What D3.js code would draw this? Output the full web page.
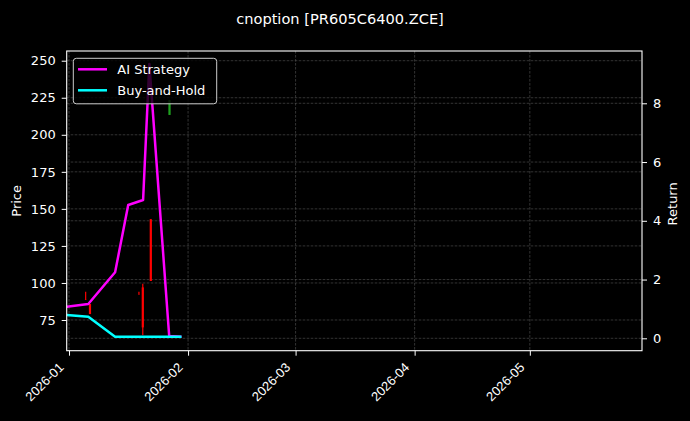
<!DOCTYPE html>
<html><head><meta charset="utf-8">
<script src="https://cdn.jsdelivr.net/npm/d3@7"></script>
<style>
html,body{margin:0;padding:0;background:#000;}
svg{display:block;font-family:"DejaVu Sans",sans-serif;}
</style></head><body>
<svg id="c" width="690" height="421"></svg>
<script>
// ---- data ----
const titleText = "cnoption [PR605C6400.ZCE]";
const lineDates = ["2025-12-31T10:00","2026-01-06T00:30","2026-01-13T00:00","2026-01-16T10:00","2026-01-20T07:00","2026-01-21T22:00","2026-01-27T02:00","2026-01-30T07:00"];
const aiStrategy = [84.0, 85.8, 107.2, 152.6, 156.0, 247.8, 64.2, 63.7];
const buyAndHold = [78.4, 77.2, 63.7, 63.7, 63.7, 63.7, 63.7, 63.7];
const candleDates = ["2026-01-05T08:00","2026-01-06T11:00","2026-01-19T05:00","2026-01-20T05:00","2026-01-22T07:00","2026-01-27T04:00"];
const candleOpen  = [88.6, 85.8, 92.1, 97.0, 143.0, 213.4];
const candleHigh  = [94.1, 85.8, 94.1, 99.5, 143.0, 223.5];
const candleLow   = [88.5, 79.0, 92.0, 64.9, 101.3, 213.4];
const candleClose = [88.5, 79.0, 92.0, 70.0, 101.3, 223.5];
const priceTicks = [75, 100, 125, 150, 175, 200, 225, 250];
const returnTicks = [0, 2, 4, 6, 8];
const dateTicks = ["2026-01-01","2026-02-01","2026-03-01","2026-04-01","2026-05-01"];
const xDomain = ["2025-12-31T09:30","2026-05-30T05:00"];
const priceDomain = [54.28, 256.55];
const returnDomain = [-0.422, 9.78];
const seriesNames = ["AI Strategy","Buy-and-Hold"];

// ---- layout ----
const L = 66.7, R = 642, T = 51, B = 350.7;
const svg = d3.select("#c");
svg.append("rect").attr("width",690).attr("height",421).attr("fill","#000");
const parse = s => new Date(s);
const x = d3.scaleTime().domain(xDomain.map(parse)).range([L, R]);
const y = d3.scaleLinear().domain(priceDomain).range([B, T]);
const y2 = d3.scaleLinear().domain(returnDomain).range([B, T]);

// grid
const grid = svg.append("g").attr("stroke","#555").attr("stroke-width",0.6).attr("stroke-dasharray","2.6,1.4");
dateTicks.forEach(d => grid.append("line").attr("x1",x(parse(d))).attr("x2",x(parse(d))).attr("y1",T).attr("y2",B));
priceTicks.forEach(v => grid.append("line").attr("x1",L).attr("x2",R).attr("y1",y(v)).attr("y2",y(v)));
returnTicks.forEach(v => grid.append("line").attr("x1",L).attr("x2",R).attr("y1",y2(v)).attr("y2",y2(v)));

// candles
const cg = svg.append("g");
candleDates.forEach((d,i) => {
  const up = candleClose[i] >= candleOpen[i];
  const col = up ? "#1fa01f" : "#ff0000";
  const cx = x(parse(d));
  cg.append("line").attr("x1",cx).attr("x2",cx).attr("y1",y(candleHigh[i])).attr("y2",y(candleLow[i]))
    .attr("stroke",col).attr("stroke-width",1.2);
  cg.append("line").attr("x1",cx).attr("x2",cx)
    .attr("y1",y(Math.max(candleOpen[i],candleClose[i]))).attr("y2",y(Math.min(candleOpen[i],candleClose[i])))
    .attr("stroke",col).attr("stroke-width",2.2);
});

// lines
const pts = (vals) => lineDates.map((d,i) => [x(parse(d)), y(vals[i])]);
const line = d3.line();
svg.append("path").attr("d", line(pts(aiStrategy))).attr("fill","none").attr("stroke","#ff00ff").attr("stroke-width",2.5).attr("stroke-linejoin","round");
svg.append("path").attr("d", line(pts(buyAndHold))).attr("fill","none").attr("stroke","#00ffff").attr("stroke-width",2.5).attr("stroke-linejoin","round");

// frame
svg.append("rect").attr("x",L).attr("y",T).attr("width",R-L).attr("height",B-T).attr("fill","none").attr("stroke","#fff").attr("stroke-width",1.1);

// axes
const fs = 13;
const xAxis = d3.axisBottom(x).tickValues(dateTicks.map(parse)).tickSize(5).tickFormat(d3.timeFormat("%Y-%m"));
const gx = svg.append("g").attr("transform",`translate(0,${B})`).call(xAxis);
gx.select(".domain").remove();
gx.selectAll(".tick line").attr("stroke","#fff");
gx.selectAll(".tick text").attr("fill","#fff").attr("font-size",fs).attr("text-anchor","end")
  .attr("dy",null).attr("y",null).attr("transform","translate(-5,17.5) rotate(-45)");

const gy = svg.append("g").attr("transform",`translate(${L},0)`).call(d3.axisLeft(y).tickValues(priceTicks).tickSize(5).tickPadding(6));
gy.select(".domain").remove();
gy.selectAll(".tick line").attr("stroke","#fff");
gy.selectAll(".tick text").attr("fill","#fff").attr("font-size",fs).attr("font-family","DejaVu Sans");

const gy2 = svg.append("g").attr("transform",`translate(${R},0)`).call(d3.axisRight(y2).tickValues(returnTicks).tickSize(5).tickPadding(6));
gy2.select(".domain").remove();
gy2.selectAll(".tick line").attr("stroke","#fff");
gy2.selectAll(".tick text").attr("fill","#fff").attr("font-size",fs).attr("font-family","DejaVu Sans");

// labels
svg.append("text").attr("x",340).attr("y",24).attr("text-anchor","middle").attr("fill","#fff").attr("font-size",14.6).text(titleText);
svg.append("text").attr("transform",`translate(21,${(T+B)/2}) rotate(-90)`).attr("text-anchor","middle").attr("fill","#fff").attr("font-size",fs).text("Price");
svg.append("text").attr("transform",`translate(677,${(T+B)/2 + 3}) rotate(-90)`).attr("text-anchor","middle").attr("fill","#fff").attr("font-size",fs).text("Return");

// legend
const lg = svg.append("g");
lg.append("rect").attr("x",73.3).attr("y",58.3).attr("width",143.4).attr("height",45.5).attr("rx",3)
  .attr("fill","#000").attr("fill-opacity",0.8).attr("stroke","#cccccc").attr("stroke-width",1);
const legColors = ["#ff00ff","#00ffff"];
seriesNames.forEach((n,i) => {
  const ly = 69.3 + i*21;
  lg.append("line").attr("x1",78).attr("x2",107).attr("y1",ly).attr("y2",ly).attr("stroke",legColors[i]).attr("stroke-width",2.5);
  lg.append("text").attr("x",117.3).attr("y",ly+4.6).attr("fill","#fff").attr("font-size",fs).text(n);
});
</script>
</body></html>
